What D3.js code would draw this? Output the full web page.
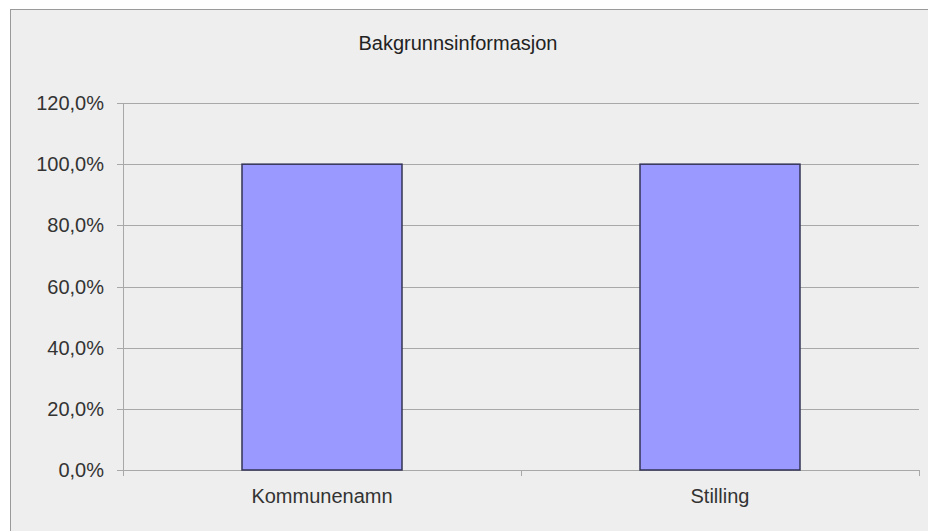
<!DOCTYPE html>
<html>
<head>
<meta charset="utf-8">
<script src="https://cdn.jsdelivr.net/npm/d3@7"></script>
<style>
  body { margin: 0; background: #fff; }
  text { font-family: "Liberation Sans", Arial, sans-serif; fill: #333; }
</style>
</head>
<body>
<svg id="chart" width="928" height="531"></svg>
<script>
const categories = ["Kommunenamn", "Stilling"];
const values = [1.0, 1.0];
const yTicks = [0, 0.2, 0.4, 0.6, 0.8, 1.0, 1.2];
const title = "Bakgrunnsinformasjon";

const svg = d3.select("#chart");
const margin = {top: 103, left: 123, right: 9, bottom: 61};
const width = 928 - margin.left - margin.right;
const height = 531 - margin.top - margin.bottom;

// outer frame
svg.append("rect")
    .attr("x", 10.5).attr("y", 9.5)
    .attr("width", 940).attr("height", 540)
    .attr("fill", "#eeeeee")
    .attr("stroke", "#9a9a9a");

svg.append("text")
    .attr("x", 458).attr("y", 50)
    .attr("text-anchor", "middle")
    .style("font-size", "20px")
    .style("fill", "#222")
    .text(title);

const g = svg.append("g")
    .attr("transform", `translate(${margin.left},${margin.top})`);

const x = d3.scaleBand().domain(categories).range([0, width]).paddingInner(0.598).paddingOuter(0.299);
const y = d3.scaleLinear().domain([0, 1.2]).range([height, 0]);
const fmt = d => d3.format(".1f")(d * 100).replace(".", ",") + "%";

// gridlines
g.selectAll(".grid")
    .data(yTicks)
    .join("line")
    .attr("x1", -6).attr("x2", width)
    .attr("y1", d => Math.round(y(d)) + 0.5)
    .attr("y2", d => Math.round(y(d)) + 0.5)
    .attr("stroke", "#a8a8a8");

// y axis line
g.append("line")
    .attr("x1", 0.5).attr("x2", 0.5)
    .attr("y1", 0).attr("y2", height + 6)
    .attr("stroke", "#a8a8a8");

// category separators (bottom ticks)
const sepX = [0, width / 2, width];
g.selectAll(".sep")
    .data(sepX)
    .join("line")
    .attr("x1", d => Math.round(d) + 0.5).attr("x2", d => Math.round(d) + 0.5)
    .attr("y1", height).attr("y2", height + 6)
    .attr("stroke", "#a8a8a8");

g.selectAll(".ylab")
    .data(yTicks)
    .join("text")
    .attr("x", -19)
    .attr("y", d => y(d))
    .attr("dy", "0.35em")
    .attr("text-anchor", "end")
    .style("font-size", "20px")
    .text(fmt);

g.selectAll(".bar")
    .data(values)
    .join("rect")
    .attr("x", (d, i) => x(categories[i]))
    .attr("y", d => y(d))
    .attr("width", x.bandwidth())
    .attr("height", d => height - y(d))
    .attr("fill", "#9999ff")
    .attr("stroke", "#333355")
    .attr("stroke-width", 1.5);

g.selectAll(".xlab")
    .data(categories)
    .join("text")
    .attr("x", d => x(d) + x.bandwidth() / 2)
    .attr("y", height + 33)
    .attr("text-anchor", "middle")
    .style("font-size", "20px")
    .text(d => d);
</script>
</body>
</html>
